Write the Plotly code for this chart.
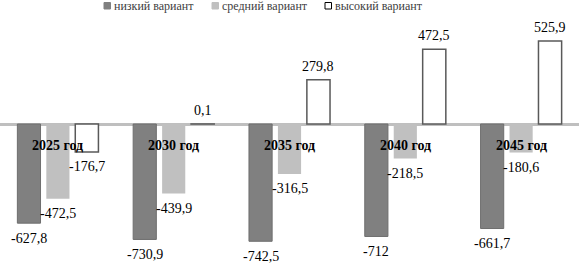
import plotly.graph_objects as go

categories = ["2025 год", "2030 год", "2035 год", "2040 год", "2045 год"]
low = [-627.8, -730.9, -742.5, -712, -661.7]
mid = [-472.5, -439.9, -316.5, -218.5, -180.6]
high = [-176.7, 0.1, 279.8, 472.5, 525.9]
series_names = ["низкий вариант", "средний вариант", "высокий вариант"]

def fmt(v):
    return f"{v:g}".replace(".", ",")

FONT = "Liberation Serif"
W, H = 579, 263
BARGAP = 0.25
cat_px = W / len(categories)
pitch_px = cat_px * (1 - BARGAP) / 3

fig = go.Figure()
styles = [
    dict(color="#808080", line=dict(color="#6e6e6e", width=1)),
    dict(color="#c0c0c0", line=dict(color="#c0c0c0", width=0)),
    dict(color="#ffffff", line=dict(color="#595959", width=1.5)),
]
all_vals = [low, mid, high]
for si, (name, vals, st) in enumerate(zip(series_names, all_vals, styles)):
    fig.add_trace(go.Bar(
        x=categories, y=vals, name=name, marker=st,
        cliponaxis=False, showlegend=False,
    ))
    # value labels
    for c, v in zip(categories, vals):
        fig.add_annotation(x=c, y=v, text=fmt(v), showarrow=False,
                           xshift=(si - 1) * pitch_px,
                           yanchor="middle", yshift=(13.5 if v >= 0 else -15),
                           font=dict(family=FONT, size=14, color="#000000"))

for c in categories:
    fig.add_annotation(x=c, y=0, text=f"<b>{c}</b>", showarrow=False,
                       yanchor="top", yshift=-12,
                       font=dict(family=FONT, size=14, color="#000000"))

# custom legend (small squares + text), laid out like the original
legend_x = [104, 212, 325]
legend_fill = ["#808080", "#c0c0c0", "#ffffff"]
legend_line = ["#808080", "#c0c0c0", "#000000"]
for lx, name, fc, lc in zip(legend_x, series_names, legend_fill, legend_line):
    fig.add_shape(type="rect", xref="paper", yref="paper",
                  x0=lx / W, x1=(lx + 6.5) / W, y0=1 - 9 / H, y1=1 - 2.5 / H,
                  fillcolor=fc, line=dict(color=lc, width=1))
    fig.add_annotation(xref="paper", yref="paper", x=(lx + 8) / W, y=1 - 6 / H,
                       xanchor="left", yanchor="middle", text=name, showarrow=False,
                       font=dict(family=FONT, size=12, color="#404040"))

fig.update_layout(
    width=W, height=H,
    margin=dict(l=0, r=0, t=0, b=0),
    paper_bgcolor="white", plot_bgcolor="white",
    barmode="group", bargap=BARGAP, bargroupgap=0.2,
    showlegend=False,
    xaxis=dict(showticklabels=False, showgrid=False, zeroline=False, showline=False,
               range=[-0.5, 4.5], automargin=False, fixedrange=True),
    yaxis=dict(range=[-880, 785], showticklabels=False, showgrid=False,
               zeroline=True, zerolinecolor="#bfbfbf", zerolinewidth=2.5,
               automargin=False, fixedrange=True),
)
fig.write_html("out.html", config={"displayModeBar": False},
               post_script="document.body.style.margin='0';document.body.style.padding='0';")
